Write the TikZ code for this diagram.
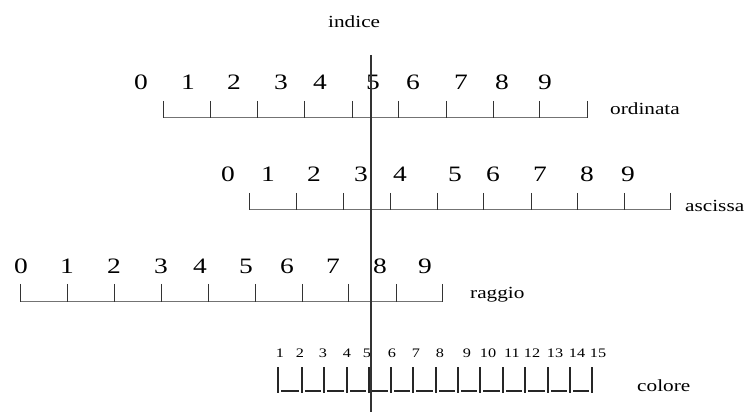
\documentclass[tikz,border=0pt]{standalone}
\usepackage{fontspec}
\setmainfont{Liberation Serif}
\newcommand{\wide}[1]{\scalebox{1.25}[1]{#1}}
\begin{document}
\begin{tikzpicture}[x=1pt,y=-1pt,
  bigdigit/.style={font=\fontsize{22}{22}\selectfont, anchor=base, inner sep=0pt},
  smalldigit/.style={font=\fontsize{13}{13}\selectfont, anchor=base, inner sep=0pt},
  lab/.style={font=\fontsize{17}{17}\selectfont, anchor=base west, inner sep=0pt},
  tickline/.style={line width=0.8pt, black!80},
  underline/.style={line width=0.7pt, black!55},
  thicktick/.style={line width=1.3pt, black!85},
  thickunder/.style={line width=1.4pt, black!85},
  indexline/.style={line width=2pt, black!80}]
\useasboundingbox (0,0) rectangle (745,414);
% labels
\node[lab] (indice) at (328,28) {\wide{indice}};
\node[lab] (ordinata) at (610,115) {\wide{ordinata}};
\node[lab] (ascissa) at (685,212) {\wide{ascissa}};
\node[lab] (raggio) at (470,299) {\wide{raggio}};
\node[lab] (colore) at (637,391) {\wide{colore}};
% ordinata row
\foreach \d/\x in {0/141,1/188,2/234,3/281,4/320,5/373,6/413,7/461,8/502,9/545}
  \node[bigdigit] (o\d) at (\x,90) {\wide{\d}};
\draw[underline] (163,117) -- (587,117);
\foreach \x in {163,210,257,304,352,398,446,493,539,587}
  \draw[tickline] (\x,101) -- (\x,118);
% ascissa row
\foreach \d/\x in {0/228,1/268,2/314,3/361,4/400,5/455,6/493,7/540,8/587,9/628}
  \node[bigdigit] (a\d) at (\x,182) {\wide{\d}};
\draw[underline] (249,209) -- (670,209);
\foreach \x in {249,296,343,390,437,483,531,577,624,670}
  \draw[tickline] (\x,193) -- (\x,210);
% raggio row
\foreach \d/\x in {0/21,1/67,2/114,3/161,4/200,5/246,6/287,7/333,8/380,9/425}
  \node[bigdigit] (r\d) at (\x,274) {\wide{\d}};
\draw[underline] (20,301) -- (442,301);
\foreach \x in {20,67,114,161,208,255,302,348,396,442}
  \draw[tickline] (\x,284) -- (\x,302);
% colore row
\foreach \d/\x in {1/280,2/300,3/323,4/347,5/367,6/392,7/416,8/440,9/467,10/488,11/512,12/532,13/555,14/577,15/598}
  \node[smalldigit] (c\d) at (\x,357) {\wide{\d}};
\foreach \x [remember=\x as \px (initially 278)] in {302,324,347,369,391,413,436,458,480,503,525,548,570,592}
  \draw[thickunder] (\px+3,391) -- (\x-3,391);
\foreach \x in {278,302,324,347,369,391,413,436,458,480,503,525,548,570,592}
  \draw[thicktick] (\x,367) -- (\x,393);
% index line
\coordinate (top) at (371,55);
\coordinate (bottom) at (371,412);
\draw[indexline] (top) -- (bottom);
\end{tikzpicture}
\end{document}
